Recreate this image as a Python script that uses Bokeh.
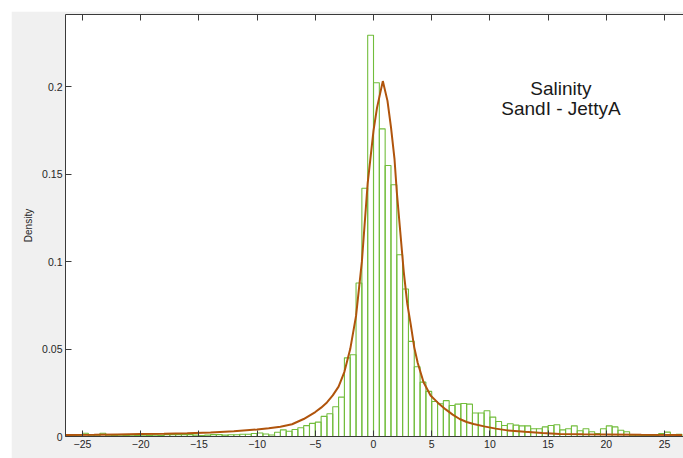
from bokeh.plotting import figure
from bokeh.models import Range1d, LinearAxis, Label, FixedTicker, Spacer, ColumnDataSource
from bokeh.layouts import column, row
from bokeh.embed import file_html
from bokeh.resources import INLINE

# ---- data ----
bin_start = -26.5
bin_width = 0.5
density = [
    0.0005, 0.0005, 0.0008, 0.0019, 0.0008, 0.0008, 0.0019, 0.0008,
    0.0005, 0.0008, 0.0005, 0.0008, 0.0005, 0.0008, 0.0005, 0.0008,
    0.0005, 0.0011, 0.0011, 0.0011, 0.0011, 0.0011, 0.0008, 0.0005,
    0.0008, 0.0011, 0.0011, 0.0008, 0.0010, 0.0010, 0.0013, 0.0013,
    0.0017, 0.0020, 0.0014, 0.0009, 0.0024, 0.0038, 0.0030, 0.0040,
    0.0050, 0.0062, 0.0075, 0.0082, 0.0115, 0.0130, 0.0170, 0.0225,
    0.0450, 0.0468, 0.0878, 0.1420, 0.2295, 0.2024, 0.1760, 0.1550,
    0.1440, 0.1040, 0.0844, 0.0544, 0.0399, 0.0311, 0.0258, 0.0200,
    0.0187, 0.0205, 0.0177, 0.0185, 0.0189, 0.0185, 0.0134, 0.0134,
    0.0147, 0.0111, 0.0086, 0.0063, 0.0073, 0.0065, 0.0061, 0.0061,
    0.0044, 0.0044, 0.0055, 0.0063, 0.0067, 0.0038, 0.0044, 0.0061,
    0.0033, 0.0044, 0.0027, 0.0017, 0.0044, 0.0061, 0.0055, 0.0036,
    0.0027, 0.0008, 0.0008, 0.0005, 0.0005, 0.0005, 0.0017, 0.0025,
    0.0010, 0.0013,
]

curve_x = [-26.5, -24, -22, -20, -18, -16, -14, -12, -10, -9, -8, -7, -6, -5,
           -4.5, -4, -3.5, -3, -2.5, -2, -1.5, -1, -0.5, 0, 0.3, 0.8, 1.2,
           1.5, 1.8, 2.0, 2.3, 2.6, 2.9, 3.2, 3.5, 3.8, 4.3, 4.9, 5.5, 6.2,
           6.8, 7.4, 8.0, 8.6, 9.5, 10.5, 11.5, 13, 14.5, 16, 18, 20, 23, 26.5]
curve_y = [0.0009, 0.0010, 0.0012, 0.0014, 0.0016, 0.0019, 0.0023, 0.0030,
           0.0040, 0.0047, 0.0056, 0.0070, 0.0100, 0.0140, 0.0165, 0.0195,
           0.0235, 0.0285, 0.0370, 0.0500, 0.0690, 0.1000, 0.1450, 0.1750,
           0.1880, 0.2033, 0.1920, 0.1770, 0.1590, 0.1400, 0.1170, 0.0940,
           0.0760, 0.0640, 0.0510, 0.0420, 0.0310, 0.0235, 0.0195, 0.0155,
           0.0125, 0.0100, 0.0083, 0.0072, 0.0058, 0.0045, 0.0035, 0.0027,
           0.0020, 0.0015, 0.0013, 0.0012, 0.0010, 0.0009]

x_ticks = [-25, -20, -15, -10, -5, 0, 5, 10, 15, 20, 25]
y_ticks = [0, 0.05, 0.1, 0.15, 0.2]
y_tick_labels = ["0", "0.05", "0.1", "0.15", "0.2"]

title_lines = ["Salinity", "SandI - JettyA"]
x_label = "Data"
y_label = "Density"

# ---- build ----
left = [bin_start + i * bin_width for i in range(len(density))]
right = [l + bin_width for l in left]
src = ColumnDataSource(dict(left=left, right=right, top=density, bottom=[0] * len(density)))

FONT = "Liberation Sans"
AX = "#3a3a3a"

p = figure(width=672, height=447,
           x_range=Range1d(-26.46, 26.63), y_range=Range1d(0, 0.2414),
           output_backend="svg", toolbar_location=None,
           min_border_left=54, min_border_right=0, min_border_top=3, min_border_bottom=22)
p.border_fill_color = "#f0f0f0"
p.background_fill_color = "white"
p.outline_line_color = None
p.grid.visible = False

p.quad(left="left", right="right", top="top", bottom="bottom", source=src,
       fill_alpha=0, line_color="#72bd3c", line_width=1.1)
p.line(curve_x, curve_y, line_color="#b0540c", line_width=2)

for ax in [p.xaxis[0], p.yaxis[0]]:
    ax.axis_line_color = AX
    ax.major_tick_line_color = AX
    ax.major_tick_in = 6
    ax.major_tick_out = 0
    ax.minor_tick_line_color = None
    ax.major_label_text_font = FONT
    ax.major_label_text_font_size = "10.5px"
    ax.major_label_text_color = "#262626"
    ax.major_label_standoff = 3

p.xaxis[0].ticker = FixedTicker(ticks=x_ticks)
p.yaxis[0].ticker = FixedTicker(ticks=y_ticks)
p.yaxis[0].major_label_overrides = {t: s for t, s in zip(y_ticks, y_tick_labels)}
p.yaxis[0].axis_label = y_label
p.yaxis[0].axis_label_text_font = FONT
p.yaxis[0].axis_label_text_font_size = "10px"
p.yaxis[0].axis_label_text_font_style = "normal"
p.yaxis[0].axis_label_text_color = "#262626"
p.yaxis[0].axis_label_standoff = 5

top_ax = LinearAxis(ticker=FixedTicker(ticks=x_ticks))
top_ax.axis_line_color = AX
top_ax.major_tick_line_color = AX
top_ax.major_tick_in = 6
top_ax.major_tick_out = 0
top_ax.minor_tick_line_color = None
top_ax.major_label_text_color = None
top_ax.major_label_text_font_size = "1px"
top_ax.major_label_standoff = 0
p.add_layout(top_ax, "above")

p.add_layout(Label(x=0, y=0, y_offset=-21, text=x_label, text_align="center",
                   text_baseline="bottom", text_font=FONT, text_font_size="10px",
                   text_color="#262626"))

p.add_layout(Label(x=16.1, y=0.199, text=title_lines[0], text_align="center",
                   text_baseline="middle", text_font=FONT, text_font_size="19px",
                   text_color="#1a1a1a"))
p.add_layout(Label(x=16.1, y=0.1877, text=title_lines[1], text_align="center",
                   text_baseline="middle", text_font=FONT, text_font_size="19px",
                   text_color="#1a1a1a"))

layout = column(Spacer(height=11), row(Spacer(width=11), p))
open("out.html", "w").write(file_html(layout, INLINE))
